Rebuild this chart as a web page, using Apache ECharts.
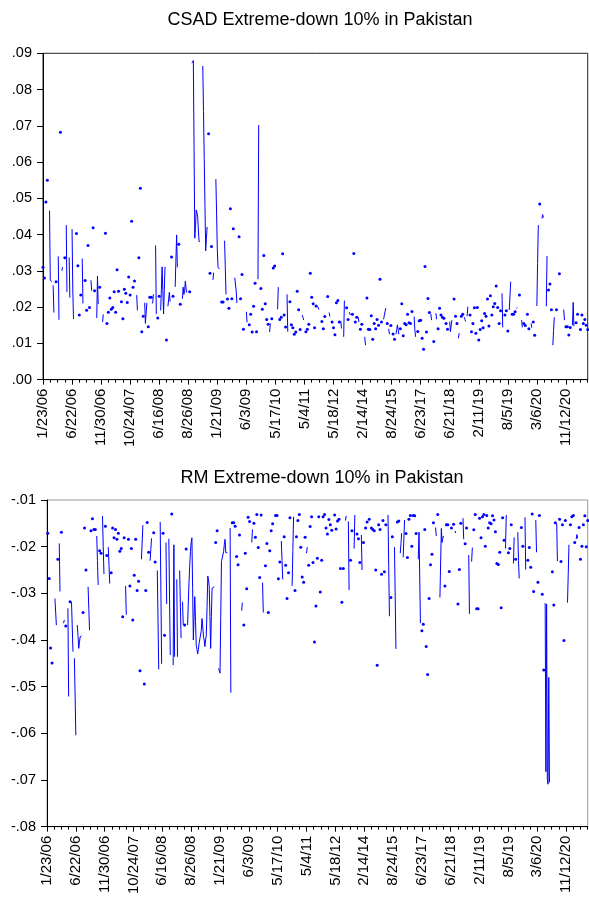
<!DOCTYPE html>
<html>
<head>
<meta charset="utf-8">
<script src="https://cdn.jsdelivr.net/npm/echarts@6/dist/echarts.min.js"></script>
<style>
  html, body { margin: 0; padding: 0; background: #fff; }
  #chart { width: 589px; height: 904px; }
</style>
</head>
<body>
<div id="chart"></div>
<script>
const _ = null;

// x axis: observations, one tick label every 40 observations
const tickLabels = ["1/23/06", "6/22/06", "11/30/06", "10/24/07", "6/16/08", "8/26/08", "1/21/09",
  "6/3/09", "5/17/10", "5/4/11", "5/18/12", "2/14/14", "8/24/15", "6/23/17", "6/21/18",
  "2/11/19", "8/5/19", "3/6/20", "11/12/20"];
const obsPerTick = 40;
const minorEvery = 10;
const obsCount = 751;

// CSAD on extreme-down days (one row per label interval, gaps = no observation)
const csadRows = [
  [.031,_,.028,_,.049,_,.055,_,_,.0466, .0275,.027,.027,_,.026,.0185,_,_,.027,_, _,.034,.0165,_,.0682,_,.030,.031,_,_, .0336,_,.0426,.0242,_,_,.0337,.0226,_,_],
  [.0415,.025,.0167,_,_,_,.0403,_,.0314,_, .0178,_,.0233,_,.0334,.021,_,_,.0273,_, .0191,_,.037,_,.0199,_,.0274,.0245,_,.0419, _,.0245,_,_,.017,.0286,.0208,_,.0255,_],
  [_,_,.0159,.018,_,_,.0404,_,.0155,_, .0186,_,.0225,_,.0194,_,.0199,_,.0242,_, .0186,_,.0303,_,.0244,_,_,_,.0215,_, .0168,_,.0249,_,.0238,_,.0213,_,.0283,_],
  [.0233,_,.0437,_,.0255,_,.0272,_,_,.0233, .0191,_,.0336,_,.0528,_,.0132,_,.0175,_, .0212,.0155,.0155,.0212,_,.0146,_,.0227,_,.0227, _,.021,.0235,_,_,.037,.0181,_,.017,_],
  [.023,_,.0191,.025,.0311,.0246,.0181,.0245,.0311,_, .0109,_,.0202,.0222,.0241,.0215,_,.0338,_,.023, _,_,.0256,.033,.0399,.031,_,.0373,_,.0208, _,_,.0223,.0255,.0235,.0245,.0272,.025,.024,_],
  [_,_,.0242,_,_,.0873,.0878,.088,.0635,.039, .0425,.0468,.046,.0449,.041,.038,.0381,_,_,_, .0865,.074,.061,.048,.0355,.039,.0421,_,.0678,_, .0293,_,.0367,_,.0275,.0295,_,_,.0553,.046],
  [.036,.031,.0305,.0305,_,_,.0214,_,.0214,_, .0383,.031,.0235,_,.0222,_,.0197,_,.0471,_, .0223,_,.0416,_,.0281,.028,.0245,.0211,_,_, .0394,_,.0223,_,.029,_,.0139,_,_,_],
  [.0187,.0158,_,_,.0151,_,.018,_,.0131,_, .0202,_,.0266,_,.0132,_,.0277,.0702,_,_, .0251,_,.0194,_,.0342,_,.0209,_,.0166,_, .0153,_,.0131,.0155,_,.0168,_,.0308,_,.0313],
  [_,_,_,.0194,.0255,_,.0166,_,.0172,_, .0347,_,.0178,_,.0145,_,.0235,.0132,_,_, .0215,_,.0151,_,.0143,_,.0125,_,.0131,_, .0244,_,.0193,_,.0138,_,_,.0178,.0171,.0164],
  [_,_,.0132,_,.0139,_,.0153,_,.0293,_, .0227,_,.0209,_,.0143,_,.0203,_,.0202,.0199, .0193,_,_,_,.016,_,.014,_,.0174,_, _,_,.0229,_,.0185,.0174,_,_,.0159,_],
  [.0143,_,.0124,_,.0212,_,.0218,_,.0159,_, .0162,.0141,_,_,.0118,.0218,_,_,.0198,_, .0166,_,.0186,.0178,_,_,.018,_,.0348,_, .0159,_,.0172,_,.0172,.0159,_,.0139,_,.0153],
  [_,_,_,.0118,.0095,_,.0225,_,.0139,_, .0138,_,.0176,_,.0111,_,.0155,_,.014,_, .0166,_,.015,_,.0277,_,.0159,_,_,.0166, .0178,.0188,.0197,_,.0155,_,.014,.0125,_,.0149],
  [_,_,.0126,_,.0111,_,.0125,.0138,.0151,.0138, .0125,_,.014,_,.0209,_,.0121,_,.0155,_, .0151,_,.018,_,.0157,_,.0155,_,.0188,_, _,.0174,.0138,.0118,_,_,.0133,_,.0162,_],
  [.0164,_,.0114,_,.0084,_,.0312,_,.0131,_, .0224,_,.0185,_,.0181,.0164,_,_,.0105,_, _,.0183,.0166,_,.014,_,.0197,_,.0178,_, .0172,_,.0169,_,_,.0155,_,.0139,_,_],
  [.016,.0132,.0148,.0164,_,_,.0222,_,.0175,_, .0155,_,.0114,.0128,_,_,.0175,_,.018,_, .0172,.0166,.016,_,.0175,.0201,_,_,.0178,_, .0132,_,.0155,_,.0198,_,.0128,_,.0199,_],
  [.0109,_,.0138,_,.0162,_,.0143,_,.0182,_, .0175,_,.0222,_,.0148,_,.0231,_,.0178,_, .0201,_,.021,_,.0258,_,.0199,_,.0155,_, .019,_,.0238,.0144,_,_,.0178,_,.019,_],
  [.0134,_,.0192,.0231,.027,_,.018,_,.018,_, .0187,_,.0196,.0199,_,_,.0233,_,_,.0164, .0144,_,.0155,_,.0149,_,_,.018,_,.014, _,_,.0155,.0143,_,.0159,_,.0122,_,_],
  [.0203,.032,.0426,_,.0484,_,_,.0444,.0455,.0447, _,_,_,.0202,.0341,_,.0247,_,.0264,_, .0193,_,.0095,.0135,.0172,_,_,.0193,_,_, _,.0292,_,_,_,_,_,.0193,.0164,_],
  [.0146,_,.0146,_,.0123,_,.0144,_,_,.015, .0213,.0147,_,_,.0157,_,.018,_,_,_, .0138,_,.0178,_,.0155,_,.0166,_,.015,_, .0138]
];

// RM on extreme-down days
const rmRows = [
  [_,-.0171,_,-.0268,_,-.0417,_,-.0449,_,_, _,-.0311,-.034,-.0368,_,-.0227,_,-.0193,-.0296,_, -.0169,_,_,-.0364,-.0357,_,-.037,_,_,-.0332, -.0521,_,-.0318,_,-.0319,-.037,-.0425,_,-.0439,-.052],
  [-.0604,_,-.0368,-.039,-.0418,-.0405,-.0393,-.0392,-.0391,_, -.0341,_,-.016,_,-.025,_,_,-.0286,-.0333,-.0379, _,-.0166,_,-.014,_,-.0163,_,-.0163,_,-.0177, -.023,-.0282,_,-.0209,_,-.0214,_,-.0134,-.02,-.0259],
  [_,-.0156,_,-.0219,_,-.0201,-.024,-.0279,_,-.0256, _,-.016,_,-.0181,_,-.0163,_,-.0184,_,-.0171, _,-.021,_,-.0204,_,-.035,_,-.0181,_,-.0284, -.0346,_,_,-.0184,_,-.0284,_,-.0204,_,-.0357],
  [_,-.0261,_,-.0184,_,-.0294,_,-.0274,_,-.0466, _,-.0227,-.019,-.0154,_,-.0494,_,-.0294,_,-.0148, _,-.0212,_,-.023,-.0206,-.0182,_,_,-.017,_, -.0233,_,_,-.0251,-.0357,-.0463,_,-.0147,-.030,-.0451],
  [_,-.0171,_,-.039,_,-.0191,-.0323,_,_,-.0183, -.031,-.0432,_,-.013,_,-.0454,-.0196,-.0436,_,_, -.027,-.0436,_,_,-.0251,-.0325,-.0396,_,-.0318,-.0368, _,-.0368,_,-.0205,_,-.0368,-.032,-.0275,-.024,-.021],
  [-.019,-.0181,-.029,-.040,-.035,-.0307,-.036,-.0411,-.042,-.043, -.042,-.0407,-.0405,-.0404,-.038,-.0354,-.037,-.0393,-.040,-.0414, -.040,-.0389,-.033,-.0263,-.027,-.0286,-.035,-.0418,-.035,-.0289, -.0288,-.0287,-.0286,_,-.0191,_,-.0166,_,-.0461,-.0466],
  [-.0471,-.035,-.0232,-.023,-.0229,-.021,-.0195,-.0184,-.0213,-.0213, -.0213,_,_,_,-.016,-.0513,_,-.0149,_,-.0149, _,-.0156,_,-.0221,_,-.0239,_,-.0175,_,_, -.0337,-.032,_,-.0368,_,-.0214,_,-.029,_,-.0137],
  [_,-.0146,_,_,-.0191,-.0163,_,-.015,_,-.018, _,-.0131,_,-.0202,_,-.0266,_,-.0132,_,-.0277, -.0341,_,_,-.0241,_,-.0193,_,-.0341,_,-.0209, _,-.0166,_,-.0151,_,_,_,-.0133,_,-.0133],
  [_,-.0269,_,-.0233,_,-.0188,-.023,-.027,_,-.0179, _,-.024,_,-.0311,_,-.0256,_,-.0138,_,_, -.0284,-.021,-.0136,_,-.0294,_,-.0179,_,-.0144,_, -.0131,_,-.0201,_,-.0265,_,-.0276,_,-.018,_],
  [-.0214,-.0201,_,-.024,_,-.0157,_,-.0136,_,-.0234, _,-.0404,_,-.0327,_,-.0225,_,-.0136,_,-.0297, _,-.0229,_,-.0136,_,-.0131,_,-.016,_,-.0173, _,-.0142,_,-.0153,_,-.0165,_,_,_,-.0132],
  [_,-.0162,_,-.0145,_,-.0141,_,-.0247,_,-.0319, _,-.0247,_,_,-.0144,-.0134,_,_,-.0146,-.0293, _,-.0229,_,-.0166,_,_,-.0204,-.0132,_,_, -.0173,_,-.0183,_,-.0234,_,-.0175,-.025,_,-.0191],
  [_,_,-.016,_,-.0147,_,_,-.0141,_,_, -.016,_,-.0163,_,-.0166,_,-.025,_,-.0454,_, -.0153,_,-.0163,_,-.0259,_,-.0144,_,-.0254,_, -.0153,_,_,-.0132,-.0245,-.0349,_,-.0309,_,-.0179],
  [_,_,-.0201,-.031,-.0419,_,-.0147,_,-.0145,_, -.0214,-.0193,-.0171,_,-.0223,-.0183,-.0143,_,-.0172,_, -.0223,_,-.0141,_,-.0133,_,-.0199,_,-.0133,_, -.0134,_,-.0172,_,_,-.0227,-.0169,-.0265,-.0364,_],
  [-.038,_,-.0366,_,-.0163,_,-.0414,_,-.0474,_, -.0311,_,-.0239,_,-.0216,_,-.0149,_,_,-.0159, -.0177,_,-.0131,_,_,-.0309,-.0235,-.0161,-.0191,-.0182, -.0177,_,-.0284,_,-.0153,_,-.0153,_,-.0253,_],
  [_,-.016,_,_,-.0152,_,-.0166,-.0171,_,_, -.0323,_,-.0249,_,-.015,_,_,-.0139,-.0184,_, -.0194,_,-.016,_,_,-.0218,-.0344,_,_,-.0232, -.0202,_,-.0164,_,-.0131,_,-.0333,_,-.0333,_],
  [-.0139,_,-.0181,_,-.0136,_,-.0131,_,-.0199,_, -.0133,_,-.016,_,-.0149,_,-.0151,_,-.0134,_, -.0143,_,-.0168,_,-.0236,_,-.0238,_,-.0212,_, -.0331,_,-.0138,_,-.0186,_,-.0204,-.0132,_,_],
  [-.0213,_,-.0204,_,-.0153,_,_,-.0236,-.018,_, -.0227,_,_,-.0169,-.023,-.0268,_,_,-.0159,_, -.0199,_,_,-.0137,-.0249,_,_,-.0229,_,-.0202, _,-.0244,_,-.013,_,-.0296,_,_,-.0143,-.0212],
  [_,-.0276,_,-.0133,_,_,_,-.0302,_,-.0464, _,-.0321,-.0682,-.0323,-.0699,-.0709,-.048,-.0705,_,_, _,-.0254,_,-.0325,_,-.0149,_,-.015,-.0231,_, _,-.0141,_,-.0232,_,-.0153,_,-.0401,_,-.0144],
  [_,_,-.032,-.0258,-.0196,_,-.0153,_,-.0136,_, -.0133,_,-.0191,_,-.0184,-.0174,-.0182,_,-.0159,_, -.0227,_,-.0199,_,-.0153,_,-.0134,_,-.02,_, -.0144]
];

// each row covers one label interval; pad / trim so rows stay aligned
function flattenRows(rows) {
  const out = [];
  rows.forEach((row) => {
    for (let k = 0; k < obsPerTick; k++) out.push(k < row.length ? row[k] : null);
  });
  return out.slice(0, obsCount);
}

// lone observations get a dot, runs are drawn as a line
function toSeriesData(vals) {
  return vals.map((v, i) => {
    if (v === null) return null;
    const lone = vals[i - 1] == null && vals[i + 1] == null;
    return { value: v, symbolSize: lone ? 3 : 0 };
  });
}

const csad = flattenRows(csadRows);
const rm = flattenRows(rmRows);
const obs = Array.from({ length: obsCount }, (d, i) => String(i));

const FONT = "'Liberation Sans', Arial, sans-serif";
const BLUE = "#0000ff";

function makeXAxes(gridIndex) {
  return [
    {
      type: "category", gridIndex, data: obs, boundaryGap: false, position: "bottom",
      axisLine: { onZero: false, lineStyle: { color: "#000", width: 1 } },
      axisTick: { interval: obsPerTick - 1, length: 5, lineStyle: { color: "#000" } },
      axisLabel: {
        interval: obsPerTick - 1, rotate: 90, margin: 9, fontSize: 15,
        color: "#000", fontFamily: FONT,
        formatter: (v, i) => tickLabels[i / obsPerTick] || "",
      },
      splitLine: { show: false },
    },
    {
      type: "category", gridIndex, data: obs, boundaryGap: false, position: "bottom",
      axisLine: { show: false, onZero: false },
      axisTick: { interval: minorEvery - 1, length: 3, lineStyle: { color: "#000" } },
      axisLabel: { show: false },
      splitLine: { show: false },
    },
  ];
}

function makeYAxis(gridIndex, min, max) {
  return {
    type: "value", gridIndex, min, max, interval: 0.01,
    axisLine: { show: true, lineStyle: { color: "#000" } },
    axisTick: { show: true, length: 6, lineStyle: { color: "#000" } },
    axisLabel: {
      margin: 11, fontSize: 14.5, color: "#000", fontFamily: FONT,
      formatter: (v) => v.toFixed(2).replace("0.", "."),
    },
    splitLine: { show: false },
  };
}

function makeSeries(xAxisIndex, yAxisIndex, vals) {
  return {
    type: "line", xAxisIndex, yAxisIndex,
    data: toSeriesData(vals),
    connectNulls: false,
    showSymbol: true, showAllSymbol: true, symbol: "circle",
    lineStyle: { color: BLUE, width: 1 },
    itemStyle: { color: BLUE },
    emphasis: { disabled: true },
    silent: true,
  };
}

const chart = echarts.init(document.getElementById("chart"));
chart.setOption({
  animation: false,
  backgroundColor: "#fff",
  title: [
    {
      text: "CSAD Extreme-down 10% in Pakistan", left: 315, top: 6, textAlign: "center",
      textStyle: { fontSize: 18, fontWeight: "normal", color: "#000", fontFamily: FONT },
    },
    {
      text: "RM Extreme-down 10% in Pakistan", left: 317, top: 464, textAlign: "center",
      textStyle: { fontSize: 18, fontWeight: "normal", color: "#000", fontFamily: FONT },
    },
  ],
  grid: [
    { left: 43, right: 1.3, top: 53.3, bottom: 524.4, show: true, borderColor: "#222", borderWidth: 1 },
    { left: 47, right: 1.3, top: 500, bottom: 77.3, show: true, borderColor: "#999", borderWidth: 1 },
  ],
  xAxis: [...makeXAxes(0), ...makeXAxes(1)],
  yAxis: [makeYAxis(0, 0, 0.09), makeYAxis(1, -0.08, -0.01)],
  series: [makeSeries(0, 0, csad), makeSeries(2, 1, rm)],
});
</script>
</body>
</html>
